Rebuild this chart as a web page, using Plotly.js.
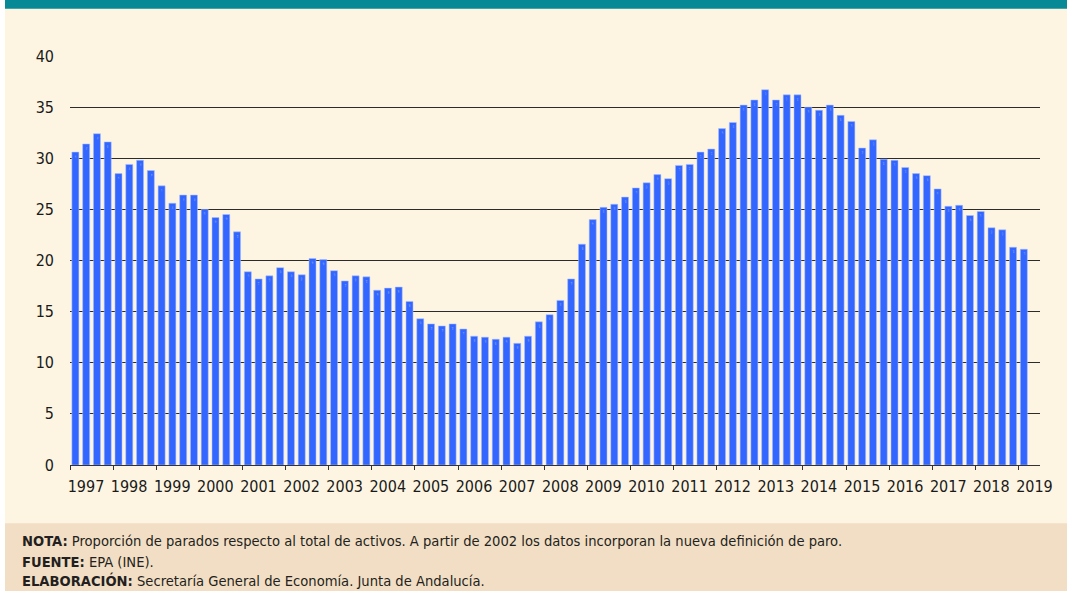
<!DOCTYPE html>
<html>
<head>
<meta charset="utf-8">
<script src="https://cdn.plot.ly/plotly-3.0.1.min.js"></script>
<style>
  html, body { margin: 0; padding: 0; background: #ffffff; }
  #chart { width: 1067px; height: 591px; }
</style>
</head>
<body>
<div id="chart"></div>
<script>
// ---- Data: tasa de paro (%) trimestral, Andalucía, 1997 T1 - 2019 T1 ----
var years = ["1997","1998","1999","2000","2001","2002","2003","2004","2005","2006","2007",
             "2008","2009","2010","2011","2012","2013","2014","2015","2016","2017","2018","2019"];

var tasa1997_2002 = [30.6, 31.4, 32.4, 31.6,
                     28.5, 29.4, 29.8, 28.8,
                     27.3, 25.6, 26.4, 26.4,
                     25.0, 24.2, 24.5, 22.8,
                     18.9, 18.2, 18.5, 19.3,
                     18.9, 18.6, 20.2, 20.1];
var tasa2003_2008 = [19.0, 18.0, 18.5, 18.4,
                     17.1, 17.3, 17.4, 16.0,
                     14.3, 13.8, 13.6, 13.8,
                     13.3, 12.6, 12.5, 12.3,
                     12.5, 11.9, 12.6, 14.0,
                     14.7, 16.1, 18.2, 21.6];
var tasa2009_2014 = [24.0, 25.2, 25.5, 26.2,
                     27.1, 27.6, 28.4, 28.0,
                     29.3, 29.4, 30.6, 30.9,
                     32.9, 33.5, 35.2, 35.7,
                     36.7, 35.7, 36.2, 36.2,
                     35.0, 34.7, 35.2, 34.2];
var tasa2015_2019 = [33.6, 31.0, 31.8, 29.9,
                     29.8, 29.1, 28.5, 28.3,
                     27.0, 25.3, 25.4, 24.4,
                     24.8, 23.2, 23.0, 21.3,
                     21.1];

var yTicks = [0, 5, 10, 15, 20, 25, 30, 35, 40];

var noteLines = [
  "<b>NOTA:</b> Proporción de parados respecto al total de activos. A partir de 2002 los datos incorporan la nueva definición de paro.",
  "<b>FUENTE:</b> EPA (INE).",
  "<b>ELABORACIÓN:</b> Secretaría General de Economía. Junta de Andalucía."
];

// ---- Build series ----
var tasa = tasa1997_2002.concat(tasa2003_2008, tasa2009_2014, tasa2015_2019);
var idx = tasa.map(function (_, i) { return i; });
var quarterLabels = tasa.map(function (_, i) {
  return years[Math.floor(i / 4)] + " T" + (i % 4 + 1);
});
var yearBoundaries = years.map(function (_, k) { return 4 * k - 0.5; });

// ---- Layout geometry (pixels) ----
var W = 1067, H = 591;
var M = { l: 70, r: 27, t: 56, b: 126 };
var PW = W - M.l - M.r, PH = H - M.t - M.b;
function px(x) { return (x - M.l) / PW; }
function py(y) { return (H - M.b - y) / PH; }

var bodyFont = "DejaVu Sans Condensed, DejaVu Sans, sans-serif";
var tickFont = "DejaVu Sans Condensed, DejaVu Sans, Verdana, sans-serif";

var shapes = [
  { type: "rect", xref: "paper", yref: "paper", x0: px(0), x1: px(5), y0: py(H), y1: py(0),
    fillcolor: "#ffffff", line: { width: 0 }, layer: "below" },
  { type: "rect", xref: "paper", yref: "paper", x0: px(5), x1: px(W), y0: py(8.7), y1: py(0),
    fillcolor: "#078A96", line: { width: 0 }, layer: "below" },
  { type: "rect", xref: "paper", yref: "paper", x0: px(5), x1: px(W), y0: py(H), y1: py(523.3),
    fillcolor: "#F2DEC4", line: { width: 0 }, layer: "below" }
];

var noteY = [540.5, 561, 580.5];
var annotations = noteLines.map(function (t, i) {
  return {
    text: t, xref: "paper", yref: "paper", x: px(20), y: py(noteY[i]),
    xanchor: "left", yanchor: "middle", showarrow: false, align: "left",
    font: { family: bodyFont, size: 14.6, color: "#231F20" }
  };
});

var trace = {
  type: "bar",
  x: idx,
  y: tasa,
  text: quarterLabels,
  hoverinfo: "text+y",
  marker: { color: "#3366FF", line: { color: "rgba(170,192,255,0.9)", width: 0.6 } }
};

var layout = {
  width: W, height: H,
  margin: M,
  paper_bgcolor: "#FDF5E2",
  plot_bgcolor: "rgba(0,0,0,0)",
  bargap: 0.35,
  showlegend: false,
  xaxis: {
    type: "linear",
    range: [-0.5, 89.5],
    tickmode: "array",
    tickvals: yearBoundaries,
    ticktext: years,
    ticklabelshift: 16,
    ticklabelstandoff: 3,
    ticks: "outside", ticklen: 4, tickwidth: 1, tickcolor: "#333333",
    showline: true, linecolor: "#333333", linewidth: 1,
    showgrid: false, zeroline: false,
    tickfont: { family: tickFont, size: 16, color: "#1a1a1a" },
    fixedrange: true
  },
  yaxis: {
    range: [0, 40],
    tickmode: "array",
    tickvals: yTicks,
    ticks: "",
    ticklabelstandoff: 15,
    showgrid: true, gridcolor: "#2b2b2b", gridwidth: 1,
    showline: false, zeroline: false,
    tickfont: { family: tickFont, size: 16, color: "#1a1a1a" },
    fixedrange: true
  },
  shapes: shapes,
  annotations: annotations
};

Plotly.newPlot("chart", [trace], layout, { displayModeBar: false, staticPlot: true });
</script>
</body>
</html>
